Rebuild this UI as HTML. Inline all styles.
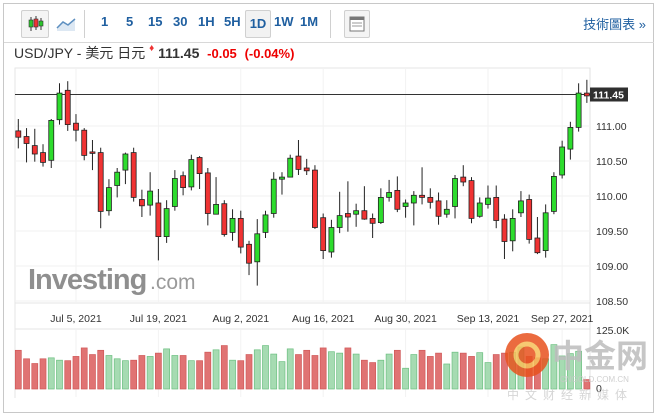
<!DOCTYPE html>
<html><head><meta charset="utf-8">
<style>
body{margin:0;width:658px;height:405px;background:#fff;font-family:"Liberation Sans","Noto Sans CJK TC",sans-serif;overflow:hidden;position:relative}
#frame{position:absolute;left:3px;top:3px;width:651px;height:410px;border:1px solid #c8c8c8;box-sizing:border-box}
#toolbar{position:absolute;left:4px;top:4px;width:650px;height:38px;border-bottom:1px solid #d8d8d8}
.tb{position:absolute;top:10px;font-size:13px;color:#1f5fa0;font-weight:bold}
.sep{position:absolute;top:6px;width:1px;height:28px;background:#d0d0d0}
#title{position:absolute;left:14px;top:43px;font-size:14px;color:#333;white-space:nowrap}
svg{position:absolute;left:0;top:0}
</style></head><body>
<div id="frame"></div>
<div id="toolbar">
 <div style="position:absolute;left:17px;top:6px;width:26px;height:26px;border:1px solid #d0d0d0;border-radius:2px;background:#f4f4f4">
  <svg width="26" height="26"><line x1="9" y1="6" x2="9" y2="20" stroke="#333"/><rect x="7" y="9" width="4" height="7" fill="#2bc52b" stroke="#333" stroke-width=".6"/><line x1="14" y1="5" x2="14" y2="19" stroke="#333"/><rect x="12" y="8" width="4" height="8" fill="#e33" stroke="#333" stroke-width=".6"/><line x1="19" y1="7" x2="19" y2="19" stroke="#333"/><rect x="17" y="10" width="4" height="5" fill="#2bc52b" stroke="#333" stroke-width=".6"/></svg></div>
 <div style="position:absolute;left:50px;top:8px;width:24px;height:22px"><svg width="24" height="22"><path d="M3 16 L9 10 L14 13 L21 7 L21 19 L3 19Z" fill="#dde8f3"/><path d="M3 16 L9 10 L14 13 L21 7" stroke="#5d8fc0" fill="none" stroke-width="1.5"/></svg></div>
 <div class="sep" style="left:80px"></div>
 <div class="tb" style="left:97px">1</div>
 <div class="tb" style="left:122px">5</div>
 <div class="tb" style="left:144px">15</div>
 <div class="tb" style="left:169px">30</div>
 <div class="tb" style="left:194px">1H</div>
 <div class="tb" style="left:220px">5H</div>
 <div style="position:absolute;left:241px;top:6px;width:24px;height:26px;border:1px solid #d0d0d0;border-radius:2px;background:#f2f2f2;font-size:13px;font-weight:bold;color:#1f5fa0;text-align:center;line-height:26px">1D</div>
 <div class="tb" style="left:270px">1W</div>
 <div class="tb" style="left:296px">1M</div>
 <div class="sep" style="left:326px"></div>
 <div style="position:absolute;left:340px;top:6px;width:24px;height:26px;border:1px solid #d0d0d0;border-radius:2px;background:#f4f4f4"><svg width="24" height="26"><rect x="5" y="6" width="14" height="14" fill="#fff" stroke="#777"/><rect x="5" y="6" width="14" height="3" fill="#777"/><line x1="7" y1="12" x2="17" y2="12" stroke="#999"/><line x1="7" y1="15" x2="17" y2="15" stroke="#999"/></svg></div>
 <div style="position:absolute;right:8px;top:10px;font-size:13px;color:#1f5fa0">技術圖表 »</div>
</div>
<div id="title">USD/JPY - 美元 日元 <span style="color:#e33;font-size:10px;vertical-align:top">&#9830;</span> <b style="color:#333">111.45</b> &nbsp;<span style="color:#e00;font-weight:bold;font-size:13px">-0.05</span> &nbsp;<span style="color:#e00;font-weight:bold;font-size:13px">(-0.04%)</span></div>
<svg id="chart" width="658" height="405"></svg>
<script>
const opens=[110.93,110.85,110.72,110.62,110.51,111.09,111.51,111.04,110.94,110.63,110.62,109.79,110.15,110.37,110.62,109.95,109.87,109.90,109.42,109.85,110.29,110.13,110.55,110.33,109.74,109.89,109.48,109.68,109.31,109.06,109.48,109.75,110.24,110.27,110.57,110.40,110.37,109.69,109.20,109.55,109.75,109.74,109.79,109.68,109.62,109.98,110.08,109.85,109.90,110.01,109.98,109.93,109.74,109.85,110.27,110.22,109.71,109.88,109.98,109.67,109.36,109.76,109.95,109.40,109.22,109.78,110.30,110.67,110.98,111.47];
const closes=[110.84,110.75,110.60,110.48,111.08,111.47,111.02,110.94,110.58,110.62,109.78,110.12,110.34,110.60,109.98,109.86,110.07,109.42,109.82,110.25,110.12,110.52,110.32,109.75,109.88,109.45,109.68,109.27,109.04,109.46,109.73,110.24,110.27,110.54,110.38,110.36,109.55,109.22,109.55,109.72,109.70,109.79,109.67,109.61,109.98,110.05,109.81,109.90,110.01,109.98,109.91,109.71,109.81,110.25,110.20,109.68,109.90,109.97,109.65,109.35,109.68,109.93,109.38,109.19,109.76,110.28,110.70,110.98,111.47,111.43];
const highs=[111.10,110.97,110.96,110.74,111.10,111.61,111.64,111.17,110.97,110.80,110.69,110.24,110.40,110.62,110.69,110.09,110.34,110.10,109.94,110.37,110.35,110.59,110.57,110.40,110.27,109.94,109.81,109.79,109.36,109.67,109.79,110.34,110.34,110.59,110.80,110.53,110.44,109.75,109.66,110.06,110.21,109.89,110.14,109.75,110.11,110.23,110.28,109.95,110.07,110.41,110.11,110.05,109.94,110.30,110.44,110.27,109.98,110.15,110.15,109.74,109.81,110.07,110.02,109.70,109.88,110.34,110.79,111.06,111.61,111.66];
const lows=[110.68,110.48,110.49,110.42,110.40,111.02,110.93,110.78,110.51,110.37,109.54,109.72,109.98,110.17,109.92,109.70,109.72,109.08,109.33,109.79,110.01,110.08,110.10,109.58,109.74,109.42,109.36,109.18,108.87,108.72,109.40,109.69,110.02,110.27,110.30,110.30,109.53,109.10,109.12,109.47,109.49,109.56,109.66,109.40,109.60,109.92,109.77,109.69,109.58,109.88,109.82,109.59,109.69,109.68,110.14,109.61,109.69,109.82,109.54,109.10,109.21,109.70,109.32,109.17,109.12,109.74,110.25,110.52,110.92,111.33];
const volumes=[82,64,54,64,66,61,60,69,87,73,82,71,64,60,61,71,69,76,85,71,71,60,60,78,83,92,61,60,73,83,92,74,58,85,73,82,71,87,79,76,87,74,61,56,61,74,82,44,73,82,69,76,53,78,76,69,77,56,73,76,78,89,69,66,64,94,70,75,80,20];
const priceTicks=[111.00,110.50,110.00,109.50,109.00,108.50];
const dateLabels=["Jul 5, 2021","Jul 19, 2021","Aug 2, 2021","Aug 16, 2021","Aug 30, 2021","Sep 13, 2021","Sep 27, 2021"];
const dateIndex=[7,17,27,37,47,57,66];
const lastPrice=111.45;
const volMax=125;

const NS="http://www.w3.org/2000/svg";
const svg=document.getElementById('chart');
const X0=18.3,DX=8.24,L=15,R=590,T=68,B=303;
const xs=i=>X0+i*DX;
const ys=p=>196-(p-110)*70;
const VB=389,VT=330;
const yv=v=>VB-(v/volMax)*(VB-VT);
function mk(tag,attrs,parent){const e=document.createElementNS(NS,tag);for(const k in attrs)e.setAttribute(k,attrs[k]);(parent||svg).appendChild(e);return e;}

// plot borders
let e=mk('rect',{x:L,y:T,width:R-L,height:B-T,fill:'none',stroke:'#e6e6e6'});


e=mk('line',{x1:L,y1:B+0.5,x2:L,y2:398,stroke:'#e6e6e6'});
e=mk('line',{x1:L,y1:VT-1,x2:R,y2:VT-1,stroke:'#e6e6e6'});
e=mk('line',{x1:R,y1:T,x2:R,y2:398,stroke:'#e0e0e0'});
// grid + ticks
priceTicks.forEach(p=>{
 const y=ys(p);
 let g=mk('line',{x1:L,y1:y,x2:R,y2:y,stroke:'#f2f2f2'});
 
 
 let t=mk('text',{x:596,y:y+4,'font-size':'10.5',fill:'#333','font-family':'Liberation Sans'});
 t.textContent=p.toFixed(2);
 
 
});
dateIndex.forEach((idx,k)=>{
 const x=xs(idx);
 let g=mk('line',{x1:x,y1:T,x2:x,y2:B,stroke:'#f2f2f2'});
 
 
 mk('line',{x1:x,y1:VT,x2:x,y2:VB+8,stroke:'#f2f2f2'});
 let t=mk('text',{x:x,y:322,'font-size':'10.5',fill:'#333','text-anchor':'middle','font-family':'Liberation Sans'});
 t.textContent=dateLabels[k];
 
 
});
// watermark
e=mk('text',{x:28,y:289,'font-size':'29','font-weight':'bold',fill:'#8f8f8f','font-family':'Liberation Sans','letter-spacing':'-1'});
e.textContent='Investing';


e=mk('text',{x:150,y:289,'font-size':'21',fill:'#9a9a9a','font-family':'Liberation Sans'});
e.textContent='.com';
// last price line
e=mk('line',{x1:L,y1:ys(lastPrice),x2:R,y2:ys(lastPrice),stroke:'#333'});


// candles
for(let i=0;i<opens.length;i++){
 const x=xs(i),up=closes[i]>=opens[i];
 const g=mk('g',{});
 
 
 mk('line',{x1:x,y1:ys(highs[i]),x2:x,y2:ys(lows[i]),stroke:'#222','stroke-width':1},g);
 const top=ys(Math.max(opens[i],closes[i])),bot=ys(Math.min(opens[i],closes[i]));
 mk('rect',{x:x-2.5,y:top,width:5,height:Math.max(bot-top,1.5),fill:up?'#2ddc2d':'#f03333',stroke:'#222','stroke-width':0.8},g);
}
// last price label
e=mk('rect',{x:R,y:ys(lastPrice)-7,width:38,height:14,fill:'#2f2f2f'});


e=mk('text',{x:R+3,y:ys(lastPrice)+4,'font-size':'10.5','font-weight':'bold',fill:'#fff','font-family':'Liberation Sans'});
e.textContent=lastPrice.toFixed(2);
// volume
for(let i=0;i<volumes.length;i++){
 const x=xs(i),up=closes[i]>=opens[i];
 const r=mk('rect',{x:x-3,y:yv(volumes[i]),width:6,height:VB-yv(volumes[i]),fill:up?'#a6dbb2':'#e07373',stroke:up?'#6cbf80':'#d05858','stroke-width':0.7});
 
 
}
e=mk('text',{x:596,y:VT+4,'font-size':'10.5',fill:'#333','font-family':'Liberation Sans'});
e.textContent='125.0K';


e=mk('text',{x:596,y:VB+3,'font-size':'10.5',fill:'#333','font-family':'Liberation Sans'});
e.textContent='0';
// cngold watermark
const wm=mk('g',{opacity:0.85});


mk('circle',{cx:527,cy:355,r:22,fill:'#e8521e'},wm);
mk('circle',{cx:527,cy:355,r:11,fill:'none',stroke:'#f6c05a','stroke-width':5},wm);
let t=mk('text',{x:552,y:367,'font-size':'32','font-weight':'bold',fill:'#bdbdbd','font-family':'Noto Sans CJK SC, sans-serif'},wm);t.textContent='中金网';
t=mk('text',{x:560,y:382,'font-size':'8',fill:'#c8c8c8','font-family':'Liberation Sans'},wm);t.textContent='CNGOLD.COM.CN';
t=mk('text',{x:507,y:399,'font-size':'12',fill:'#cfcfcf','letter-spacing':'6','font-family':'Noto Sans CJK SC, sans-serif'},wm);t.textContent='中文财经新媒体';
</script>
</body></html>
